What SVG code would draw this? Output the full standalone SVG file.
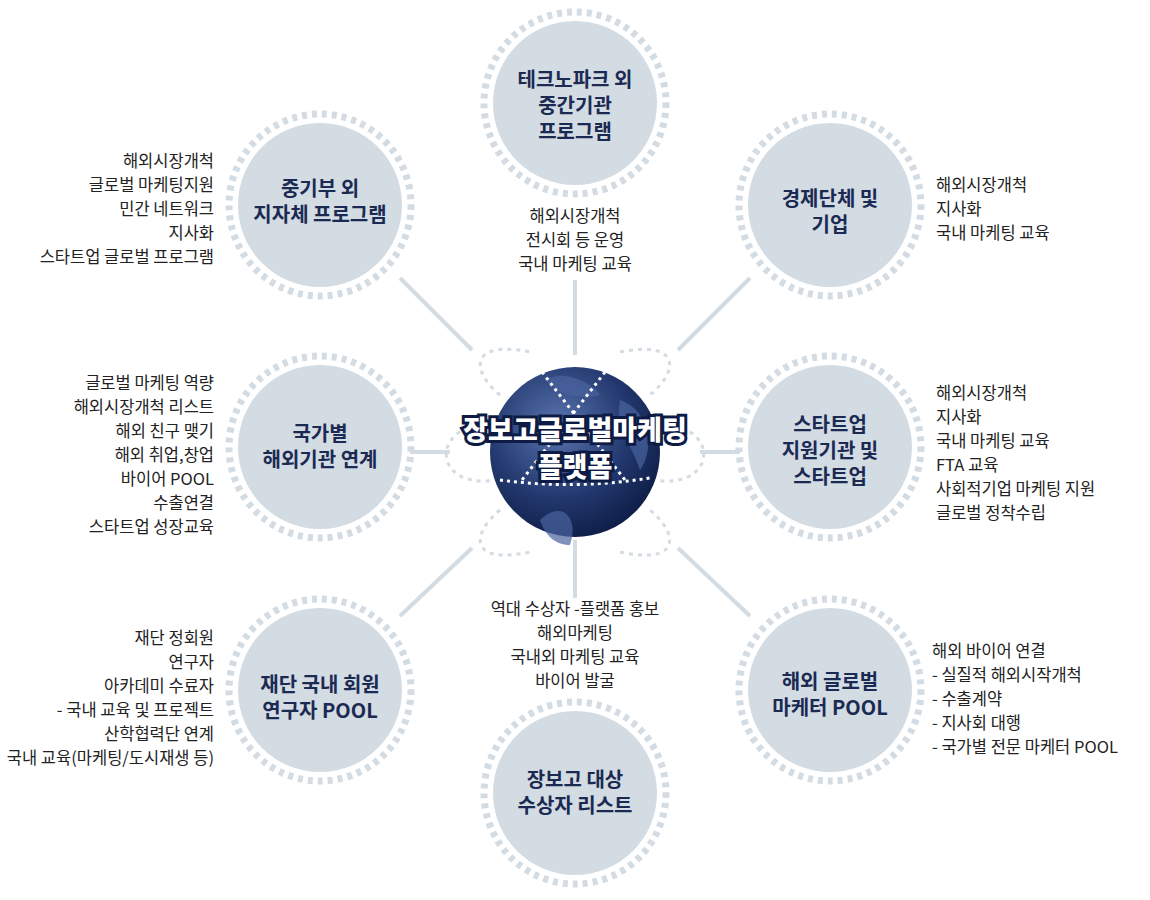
<svg xmlns="http://www.w3.org/2000/svg" width="1150" height="900" viewBox="0 0 1150 900">
<style>
.c{fill:#d3dbe3}
.r{fill:none;stroke:#d3dbe3;stroke-width:7;stroke-dasharray:5 5}
.t{font-family:"Noto Sans CJK KR","Noto Sans",sans-serif;font-weight:700;font-size:20px;fill:#1b2a52;text-anchor:middle}
.g{font-family:"Noto Sans CJK KR","Noto Sans",sans-serif;font-weight:900;font-size:27px;fill:#fff;stroke:#0e1c45;stroke-width:6;paint-order:stroke;text-anchor:middle}
.s{font-family:"Noto Sans CJK KR","Noto Sans",sans-serif;font-size:16.5px;fill:#222}
.m{text-anchor:middle}.e{text-anchor:end}
.l{stroke:#d3dbe3;stroke-width:4}
.p{fill:none;stroke:#d3dbe3;stroke-width:3;stroke-dasharray:4 5}
</style>
<defs>
<radialGradient id="g" cx="40%" cy="35%" r="70%"><stop offset="0" stop-color="#5a74b0"/><stop offset="0.6" stop-color="#22386e"/><stop offset="1" stop-color="#0e1c45"/></radialGradient>
</defs>
<g id="connectors">
<line class="l" x1="575" y1="280" x2="575" y2="355"/>
<line class="l" x1="575" y1="540" x2="575" y2="598"/>
<line class="l" x1="400" y1="278" x2="472" y2="350"/>
<line class="l" x1="750" y1="278" x2="678" y2="350"/>
<line class="l" x1="400" y1="616" x2="472" y2="548"/>
<line class="l" x1="750" y1="616" x2="678" y2="548"/>
<line class="l" x1="410" y1="452" x2="450" y2="452"/>
<line class="l" x1="700" y1="452" x2="740" y2="452"/>
<path class="p" d="M500 395 C470 370 470 340 530 352"/>
<path class="p" d="M620 352 C680 340 680 370 650 395"/>
<path class="p" d="M500 510 C470 535 470 565 530 552"/>
<path class="p" d="M620 552 C680 565 680 535 650 510"/>
<path class="p" d="M495 425 C430 420 430 490 495 480"/>
<path class="p" d="M655 425 C720 420 720 490 655 480"/>
</g>
<g id="globe">
<circle cx="575" cy="452" r="85" fill="url(#g)"/>
<path d="M545 380 C560 370 590 380 600 395 C580 400 560 395 545 380Z M620 400 C650 410 655 450 640 470 C630 440 615 430 620 400Z M540 520 C560 500 580 515 570 545 C555 545 545 535 540 520Z" fill="#4a64a0" opacity="0.7"/>
<g fill="none" stroke="#fff" stroke-width="3" stroke-dasharray="3 4">
<path d="M542 372 L625 480 M605 372 L522 480 M500 480 Q575 490 650 478"/>
</g>
<text class="g" x="575" y="440">장보고글로벌마케팅</text>
<text class="g" x="575" y="477">플랫폼</text>
</g>
<g id="n1"><circle class="c" cx="575" cy="103" r="82"/><circle class="r" cx="575" cy="103" r="91"/>
<text class="t" x="575" y="87">테크노파크 외</text><text class="t" x="575" y="113">중간기관</text><text class="t" x="575" y="139">프로그램</text></g>
<g id="n2"><circle class="c" cx="320" cy="205" r="82"/><circle class="r" cx="320" cy="205" r="91"/>
<text class="t" x="320" y="196">중기부 외</text><text class="t" x="320" y="222">지자체 프로그램</text></g>
<g id="n3"><circle class="c" cx="830" cy="205" r="82"/><circle class="r" cx="830" cy="205" r="91"/>
<text class="t" x="830" y="206">경제단체 및</text><text class="t" x="830" y="232">기업</text></g>
<g id="n4"><circle class="c" cx="320" cy="447" r="82"/><circle class="r" cx="320" cy="447" r="91"/>
<text class="t" x="320" y="441">국가별</text><text class="t" x="320" y="467">해외기관 연계</text></g>
<g id="n5"><circle class="c" cx="830" cy="447" r="82"/><circle class="r" cx="830" cy="447" r="91"/>
<text class="t" x="830" y="432">스타트업</text><text class="t" x="830" y="458">지원기관 및</text><text class="t" x="830" y="484">스타트업</text></g>
<g id="n6"><circle class="c" cx="320" cy="690" r="82"/><circle class="r" cx="320" cy="690" r="91"/>
<text class="t" x="320" y="692">재단 국내 회원</text><text class="t" x="320" y="718">연구자 POOL</text></g>
<g id="n7"><circle class="c" cx="830" cy="690" r="82"/><circle class="r" cx="830" cy="690" r="91"/>
<text class="t" x="830" y="689">해외 글로벌</text><text class="t" x="830" y="715">마케터 POOL</text></g>
<g id="n8"><circle class="c" cx="575" cy="793" r="82"/><circle class="r" cx="575" cy="793" r="91"/>
<text class="t" x="575" y="787">장보고 대상</text><text class="t" x="575" y="813">수상자 리스트</text></g>
<g id="labels">
<text class="s m" x="575" y="222">해외시장개척</text><text class="s m" x="575" y="246">전시회 등 운영</text><text class="s m" x="575" y="270">국내 마케팅 교육</text>
<text class="s e" x="214" y="167">해외시장개척</text><text class="s e" x="214" y="191">글로벌 마케팅지원</text><text class="s e" x="214" y="215">민간 네트워크</text><text class="s e" x="214" y="239">지사화</text><text class="s e" x="214" y="263">스타트업 글로벌 프로그램</text>
<text class="s" x="936" y="191">해외시장개척</text><text class="s" x="936" y="215">지사화</text><text class="s" x="936" y="239">국내 마케팅 교육</text>
<text class="s e" x="214" y="389">글로벌 마케팅 역량</text><text class="s e" x="214" y="413">해외시장개척 리스트</text><text class="s e" x="214" y="437">해외 친구 맺기</text><text class="s e" x="214" y="461">해외 취업,창업</text><text class="s e" x="214" y="485">바이어 POOL</text><text class="s e" x="214" y="509">수출연결</text><text class="s e" x="214" y="533">스타트업 성장교육</text>
<text class="s" x="936" y="399">해외시장개척</text><text class="s" x="936" y="423">지사화</text><text class="s" x="936" y="447">국내 마케팅 교육</text><text class="s" x="936" y="471">FTA 교육</text><text class="s" x="936" y="495">사회적기업 마케팅 지원</text><text class="s" x="936" y="519">글로벌 정착수립</text>
<text class="s m" x="575" y="615">역대 수상자 -플랫폼 홍보</text><text class="s m" x="575" y="639">해외마케팅</text><text class="s m" x="575" y="663">국내외 마케팅 교육</text><text class="s m" x="575" y="687">바이어 발굴</text>
<text class="s e" x="214" y="644">재단 정회원</text><text class="s e" x="214" y="668">연구자</text><text class="s e" x="214" y="692">아카데미 수료자</text><text class="s e" x="214" y="716">- 국내 교육 및 프로젝트</text><text class="s e" x="214" y="740">산학협력단 연계</text><text class="s e" x="214" y="764">국내 교육(마케팅/도시재생 등)</text>
<text class="s" x="932" y="657">해외 바이어 연결</text><text class="s" x="932" y="681">- 실질적 해외시작개척</text><text class="s" x="932" y="705">- 수출계약</text><text class="s" x="932" y="729">- 지사회 대행</text><text class="s" x="932" y="753">- 국가별 전문 마케터 POOL</text>
</g>
</svg>
